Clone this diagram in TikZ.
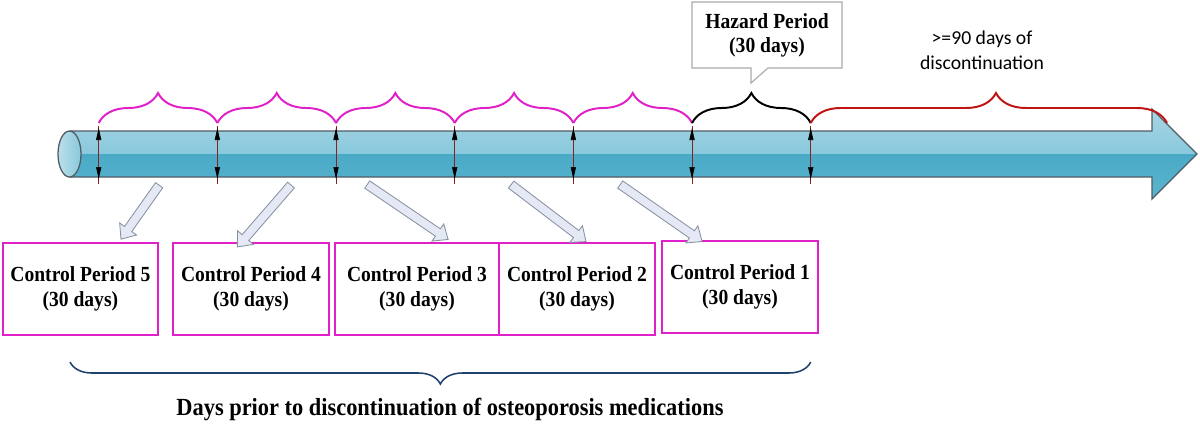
\documentclass[tikz,border=0pt]{standalone}
\usepackage{fontspec}
\setmainfont[FakeStretch=0.91]{Liberation Serif}
\newfontfamily\notefont{Carlito}
\usetikzlibrary{positioning,calc,decorations.pathreplacing,shapes.arrows,arrows.meta}

\definecolor{periodpink}{RGB}{224,32,200}
\definecolor{openred}{RGB}{192,20,20}
\definecolor{tubeline}{RGB}{80,92,100}
\definecolor{tubelight}{RGB}{172,214,228}
\definecolor{tubemid}{RGB}{136,201,220}
\definecolor{tubedark}{RGB}{74,170,198}
\definecolor{tubedeep}{RGB}{92,182,208}
\definecolor{tickred}{RGB}{140,30,30}
\definecolor{blockfill}{RGB}{228,233,245}
\definecolor{blockline}{RGB}{135,145,160}
\definecolor{spannavy}{RGB}{32,64,112}
\definecolor{calloutgray}{RGB}{170,170,170}

\begin{document}
\begin{tikzpicture}[x=0.025cm, y=-0.025cm,
period/.style={rectangle, draw=periodpink, line width=1.4pt, fill=white, minimum height=2.3cm, align=center, font=\fontsize{15.3}{17.8}\selectfont\bfseries},
bracestyle/.style={decorate, decoration={brace, amplitude=0.75cm}, line width=1.4pt},
tickline/.style={tickred, line width=0.5pt},
tickhead/.style={-{Triangle[length=0.3cm, width=0.13cm, black]}, tickred, line width=0.5pt},
blockarrow/.style={single arrow, draw=blockline, fill=blockfill, line width=0.6pt, inner sep=0.1cm, text height=0pt, text depth=0pt, single arrow head extend=0.15cm, single arrow tip angle=80},
note/.style={align=center, font=\notefont\fontsize{14}{17.5}\selectfont}
]
\useasboundingbox (0,0) rectangle (1200,424);

% tube arrow
\begin{scope}
\clip (69.5,131) -- (1152,131) -- (1152,109) -- (1197,154) -- (1152,199) -- (1152,177) -- (69.5,177) -- cycle;
\shade[top color=tubelight, bottom color=tubemid] (50,105) rectangle (1200,154);
\shade[top color=tubedark, bottom color=tubedeep] (50,154) rectangle (1200,202);
\end{scope}
\draw[tubeline, line width=0.9pt] (69.5,131) -- (1152,131) -- (1152,109) -- (1197,154) -- (1152,199) -- (1152,177) -- (69.5,177);
\draw[tubeline, line width=0.9pt, left color=tubelight!80!white, right color=tubemid] (69.5,154) ellipse [x radius=11.5, y radius=23];

% ticks
\foreach \i in {0,...,6} {
  \coordinate (top\i) at ({98.7+118.67*\i},123);
  \draw[tickline] ({98.7+118.67*\i},126) -- ({98.7+118.67*\i},184);
  \draw[tickhead] ({98.7+118.67*\i},152) -- ({98.7+118.67*\i},128);
  \draw[tickhead] ({98.7+118.67*\i},156) -- ({98.7+118.67*\i},179);
}
\coordinate (openend) at (1167,123);

% braces
\foreach \i [evaluate=\i as \j using int(\i+1)] in {0,...,4}
  \draw[bracestyle, periodpink] (top\i) -- (top\j);
\draw[bracestyle, black] (top5) -- (top6);
\draw[bracestyle, openred, decoration={aspect=0.52}] (top6) -- (openend);

% hazard callout
\draw[calloutgray, line width=0.8pt, fill=white] (692,2) -- (842,2) -- (842,68) -- (768,68) -- (751,83) -- (751,68) -- (692,68) -- cycle;
\node[align=center, font=\fontsize{15.3}{17}\selectfont\bfseries] (hazard) at (767,35) {Hazard Period\\(30 days)};
\node[note] (open) at (982,50) {>=90 days of\\discontinuation};

% control periods
\node[period, minimum width=3.875cm] (cp5) at (80.4,289) {Control Period 5\\(30 days)};
\node[period, minimum width=3.9cm] (cp4) at (251,289) {Control Period 4\\(30 days)};
\node[period, minimum width=4.1cm] (cp3) at (417,289) {Control Period 3\\(30 days)};
\node[period, minimum width=3.9cm] (cp2) at (577,289) {Control Period 2\\(30 days)};
\node[period, minimum width=3.9cm] (cp1) at (740,287) {Control Period 1\\(30 days)};

% block arrows from tube to boxes
\coordinate (tail5) at (160.7,183); \coordinate (tip5) at (122.5,237);
\coordinate (tail4) at (292.8,183); \coordinate (tip4) at (239,245);
\coordinate (tail3) at (365,183);   \coordinate (tip3) at (446,238);
\coordinate (tail2) at (509,183);   \coordinate (tip2) at (584,240);
\coordinate (tail1) at (618,183);   \coordinate (tip1) at (700,240);
\foreach \k in {1,...,5}
  \path let \p1=($(tip\k)-(tail\k)$) in
    node[blockarrow, minimum height={veclen(\x1,\y1)}, rotate={atan2(\y1,\x1)}] (blk\k) at ($(tail\k)!0.5!(tip\k)$) {};

% span brace and caption
\coordinate (spanL) at (70,362);
\coordinate (spanR) at (810.7,362);
\draw[decorate, decoration={brace, amplitude=0.55cm}, spannavy, line width=1.1pt] (spanR) -- (spanL);
\node[font=\fontsize{17.5}{20}\selectfont\bfseries] (caption) at (450,409) {Days prior to discontinuation of osteoporosis medications};
\end{tikzpicture}
\end{document}
